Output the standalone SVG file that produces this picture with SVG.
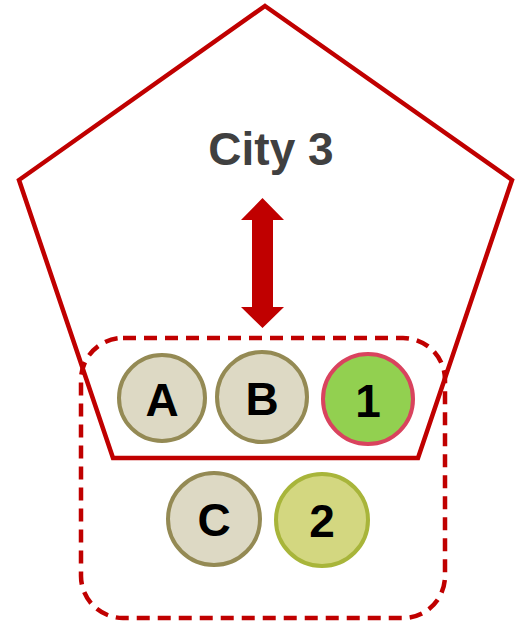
<svg xmlns="http://www.w3.org/2000/svg" width="519" height="624" viewBox="0 0 519 624">
  <style>
    .outline { fill: none; stroke: #C00000; stroke-width: 4.5; stroke-linejoin: miter; }
    .group { fill: none; stroke: #C00000; stroke-width: 4.5; stroke-dasharray: 13 8; }
    .tan { fill: #DDD9C4; stroke: #948A54; stroke-width: 4; }
    .lbl { font-family: "Liberation Sans", Arial, sans-serif; font-weight: bold; font-size: 46px; fill: #000; text-anchor: middle; }
    .title { font-family: "Liberation Sans", Arial, sans-serif; font-weight: bold; font-size: 46px; fill: #404040; text-anchor: middle; }
  </style>

  <!-- city boundary -->
  <g id="city3">
    <polygon class="outline" points="265,6 512,180 418,458 113,458 19,180"/>
    <text class="title" x="271" y="165">City 3</text>
  </g>

  <!-- dashed cluster -->
  <g id="cluster">
    <rect class="group" x="81" y="338" width="364" height="280" rx="42" ry="42"/>
  </g>

  <g id="connectors">
    <polygon fill="#C00000" points="262.5,198 284,220 273,220 273,307 284,307 262.5,328 241,307 252,307 252,220 241,220"/>
  </g>

  <g id="nodeA">
    <circle class="tan" cx="162" cy="398" r="43"/>
    <text class="lbl" x="162" y="416">A</text>
  </g>
  <g id="nodeB">
    <circle class="tan" cx="262" cy="397" r="45"/>
    <text class="lbl" x="262" y="415">B</text>
  </g>
  <g id="node1">
    <circle cx="368" cy="399" r="45" fill="#92D050" stroke="#D9435E" stroke-width="4"/>
    <text class="lbl" x="368" y="417">1</text>
  </g>
  <g id="nodeC">
    <circle class="tan" cx="214" cy="519" r="46"/>
    <text class="lbl" x="214" y="536">C</text>
  </g>
  <g id="node2">
    <circle cx="322" cy="520" r="46" fill="#D3D780" stroke="#A8B53A" stroke-width="4"/>
    <text class="lbl" x="322" y="537">2</text>
  </g>
</svg>
